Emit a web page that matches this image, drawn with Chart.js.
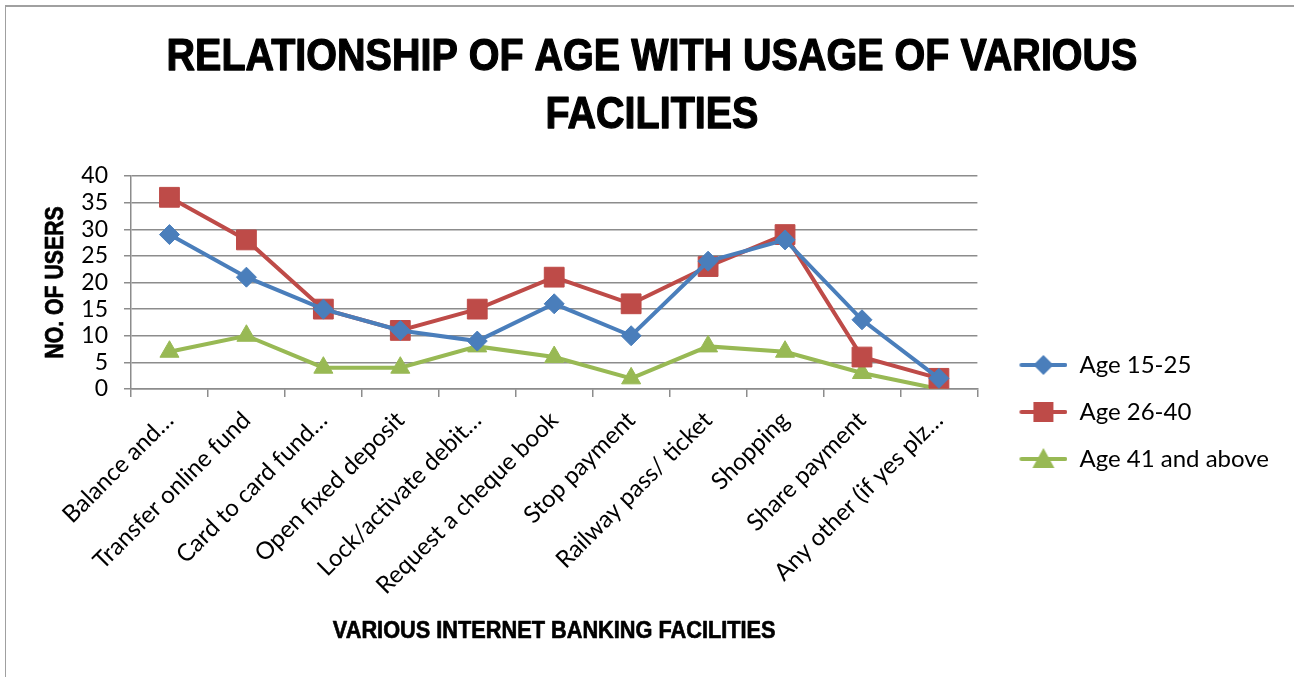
<!DOCTYPE html>
<html>
<head>
<meta charset="utf-8">
<script src="https://cdn.jsdelivr.net/npm/chart.js@4.4.1/dist/chart.umd.min.js"></script>
<style>
  html, body { margin: 0; padding: 0; background: #fff; overflow: hidden; }
  #frame {
    position: absolute; left: 5px; top: 5px; width: 1400px; height: 800px;
    border-left: 1.5px solid #a0a0a0; border-top: 2px solid #a0a0a0;
  }
  #wrap { position: absolute; left: 0; top: 0; width: 1294px; height: 677px; }
</style>
</head>
<body>
<div id="frame"></div>
<div id="wrap"><canvas id="line-chart"></canvas></div>
<script>
const FACILITIES = [
  'Balance and…',
  'Transfer online fund',
  'Card to card fund…',
  'Open fixed deposit',
  'Lock/activate debit…',
  'Request a cheque book',
  'Stop payment',
  'Railway pass/ ticket',
  'Shopping',
  'Share payment',
  'Any other (if yes plz…',
];
const AGE_15_25 = [29, 21, 15, 11, 9, 16, 10, 24, 28, 13, 2];
const AGE_26_40 = [36, 28, 15, 11, 15, 21, 16, 23, 29, 6, 2];
const AGE_41_UP = [7, 10, 4, 4, 8, 6, 2, 8, 7, 3, 0];
const Y_TICKS = [0, 5, 10, 15, 20, 25, 30, 35, 40];

const TITLE_LINES = ['RELATIONSHIP OF AGE WITH USAGE OF VARIOUS', 'FACILITIES'];
const X_TITLE = 'VARIOUS INTERNET BANKING FACILITIES';
const Y_TITLE = 'NO. OF USERS';

const BLUE = '#4a7ebb';
const RED = '#be4b48';
const GREEN = '#98b954';
const GRID = '#8c8c8c';
const TEXT_FONT = 'Lato, "Open Sans", sans-serif';

// bold headings are drawn narrowed (there is no condensed bold face installed)
const drawNarrow = (ctx, text, x, y, size, squeeze, angle) => {
  ctx.save();
  ctx.translate(x, y);
  ctx.rotate(angle);
  ctx.scale(squeeze, 1);
  ctx.font = `bold ${size}px "Liberation Sans", Arial, sans-serif`;
  ctx.fillStyle = '#000';
  ctx.strokeStyle = '#000';
  ctx.lineWidth = size / 36;
  ctx.lineJoin = 'round';
  ctx.textAlign = 'center';
  ctx.textBaseline = 'alphabetic';
  ctx.fillText(text, 0, 0);
  ctx.strokeText(text, 0, 0);
  ctx.restore();
};

const headings = {
  id: 'headings',
  afterDraw: chart => {
    const ctx = chart.ctx;
    const area = chart.chartArea;
    const cx = chart.width / 2 + 5;
    drawNarrow(ctx, TITLE_LINES[0], cx, 70, 45, 0.878, 0);
    drawNarrow(ctx, TITLE_LINES[1], cx, 128, 45, 0.878, 0);
    drawNarrow(ctx, Y_TITLE, 63, (area.top + area.bottom) / 2, 25, 0.85, -Math.PI / 2);
    drawNarrow(ctx, X_TITLE, (area.left + area.right) / 2, 638, 23, 0.945, 0);
  },
};

// line + marker picture used as the legend symbol (left part left empty as a gap)
const legendSymbol = (color, shape) => {
  const c = document.createElement('canvas');
  c.width = 67;
  c.height = 24;
  const ctx = c.getContext('2d');
  ctx.strokeStyle = color;
  ctx.fillStyle = color;
  ctx.lineWidth = 4;
  ctx.lineCap = 'round';
  ctx.beginPath();
  ctx.moveTo(21, 12);
  ctx.lineTo(65, 12);
  ctx.stroke();
  ctx.beginPath();
  if (shape === 'diamond') {
    ctx.moveTo(43, 2);
    ctx.lineTo(53, 12);
    ctx.lineTo(43, 22);
    ctx.lineTo(33, 12);
  } else if (shape === 'square') {
    ctx.rect(33, 2, 20, 20);
  } else {
    ctx.moveTo(43, 1);
    ctx.lineTo(54, 21);
    ctx.lineTo(32, 21);
  }
  ctx.closePath();
  ctx.fill();
  return c;
};

const SYMBOLS = [
  legendSymbol(BLUE, 'diamond'),
  legendSymbol(RED, 'square'),
  legendSymbol(GREEN, 'triangle'),
];

new Chart(document.getElementById('line-chart'), {
  type: 'line',
  data: {
    labels: FACILITIES,
    datasets: [
      {
        label: 'Age 15-25',
        data: AGE_15_25,
        borderColor: BLUE,
        backgroundColor: BLUE,
        pointStyle: 'rectRot',
        pointRadius: 10,
        fill: false,
      },
      {
        label: 'Age 26-40',
        data: AGE_26_40,
        borderColor: RED,
        backgroundColor: RED,
        pointStyle: 'rect',
        pointRadius: 14,
        fill: false,
      },
      {
        label: 'Age 41 and above',
        data: AGE_41_UP,
        borderColor: GREEN,
        backgroundColor: GREEN,
        pointStyle: 'triangle',
        pointRadius: 11,
        fill: false,
      },
    ],
  },
  plugins: [headings],
  options: {
    responsive: true,
    maintainAspectRatio: false,
    animation: false,
    events: [],
    elements: {
      line: { borderWidth: 4, tension: 0 },
      point: { borderWidth: 1 },
    },
    layout: { padding: { left: 0, right: 15, top: 176, bottom: 0 } },
    plugins: {
      tooltip: { enabled: false },
      title: { display: false },
      legend: {
        position: 'right',
        align: 'start',
        title: {
          display: true,
          text: '',
          font: { size: 10, lineHeight: 1.2 },
          padding: { top: 142, bottom: 0 },
        },
        labels: {
          usePointStyle: true,
          pointStyleWidth: 67,
          boxHeight: 24,
          padding: 23,
          color: '#000',
          font: { family: TEXT_FONT, size: 24 },
          generateLabels: chart => {
            const items = Chart.defaults.plugins.legend.labels.generateLabels(chart);
            items.forEach((item, i) => {
              item.pointStyle = SYMBOLS[i];
            });
            return items;
          },
        },
      },
    },
    scales: {
      x: {
        offset: true,
        afterFit: scale => {
          scale.height = 288;
        },
        grid: {
          offset: true,
          drawOnChartArea: false,
          drawTicks: true,
          tickLength: 8,
          color: GRID,
          lineWidth: 1.5,
        },
        border: { color: GRID, width: 1.5 },
        ticks: {
          color: '#000',
          font: { family: TEXT_FONT, size: 24 },
          maxRotation: 45,
          minRotation: 45,
          autoSkip: false,
          padding: 9,
        },
      },
      y: {
        min: 0,
        max: 40,
        afterFit: scale => {
          scale.width = 131;
        },
        afterBuildTicks: scale => {
          scale.ticks = Y_TICKS.map(v => ({ value: v }));
        },
        grid: {
          color: GRID,
          lineWidth: 1.5,
          tickLength: 7,
        },
        border: { color: GRID, width: 1.5 },
        ticks: {
          color: '#000',
          font: { family: TEXT_FONT, size: 23, lineHeight: 1 },
          autoSkip: false,
          padding: 16,
        },
      },
    },
  },
});
</script>
</body>
</html>
